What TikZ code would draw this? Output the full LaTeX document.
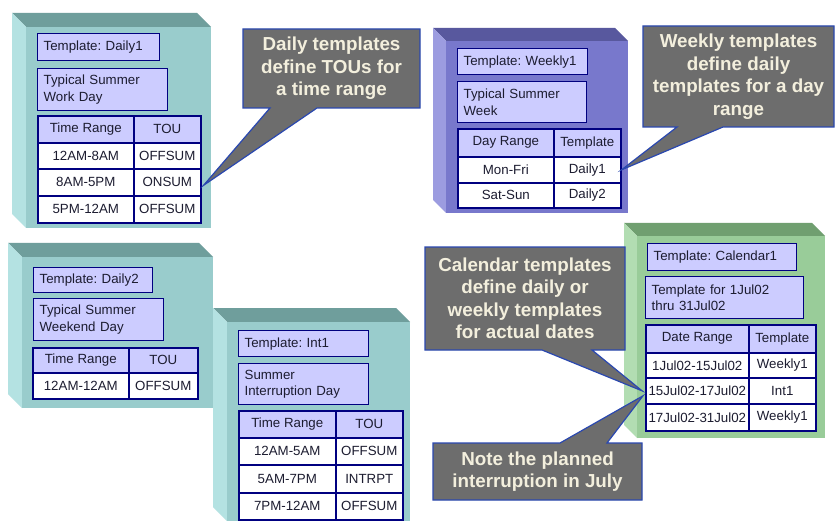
\documentclass[tikz,border=0pt]{standalone}
\usepackage{fontspec}
\setmainfont{Liberation Sans}
\usetikzlibrary{calc}
\frenchspacing
\definecolor{navy}{HTML}{000080}
\definecolor{lav}{HTML}{CCCCFF}
\definecolor{ink}{HTML}{1C1C30}
\definecolor{tealF}{HTML}{99CCCC}\definecolor{tealT}{HTML}{6F9E9C}\definecolor{tealL}{HTML}{B4E2E2}
\definecolor{bluF}{HTML}{7878CC}\definecolor{bluT}{HTML}{58589E}\definecolor{bluL}{HTML}{9C9CE0}
\definecolor{grnF}{HTML}{99CC99}\definecolor{grnT}{HTML}{709F70}\definecolor{grnL}{HTML}{B2DDB2}
\definecolor{callF}{HTML}{6D6D6D}\definecolor{callD}{HTML}{2A48B0}\definecolor{callT}{HTML}{F3EFDD}
\newcommand\mycube[9]{% name,x0,y0,x1,y1,d,front,top,left
  \fill[#8] (#2,#3) -- (#4-#6,#3) -- (#4,#3+#6) -- (#2+#6,#3+#6) -- cycle;
  \fill[#9] (#2,#3) -- (#2+#6,#3+#6) -- (#2+#6,#5) -- (#2,#5-#6) -- cycle;
  \node[fill=#7, inner sep=0pt, anchor=north west, minimum width={#4-#2-#6}, minimum height={#5-#3-#6}] (#1) at (#2+#6,#3+#6) {};}
\tikzset{
  boxfont/.style={font=\fontsize{13.3}{16.5}\selectfont\frenchspacing},
  lbl/.style={draw=navy, line width=1.3pt, fill=lav, text=ink, boxfont, inner xsep=6pt, inner ysep=0pt, align=left, anchor=north west},
  hcell/.style={draw=navy, line width=1.6pt, fill=lav, text=ink, boxfont, inner sep=0pt, align=center, anchor=north west},
  dcell/.style={hcell, fill=white},
  callout/.style={fill=callF, draw=callD, line width=1.2pt, line join=miter},
  calltext/.style={text=callT, font=\bfseries\fontsize{18.8}{22.5}\selectfont, align=center, inner sep=0pt},
}
\begin{document}
\begin{tikzpicture}[x=1pt,y=-1pt]
\useasboundingbox[fill=white] (0,0) rectangle (837,521);

% ---------- Daily1 ----------
\mycube{d1box}{12}{13}{211}{228}{14}{tealF}{tealT}{tealL}
\node[lbl, text width=110pt, minimum height=27pt] (d1name) at (37,33) {Template: Daily1};
\node[lbl, text width=118pt, minimum height=42pt] (d1desc) at (37,68) {Typical Summer\\Work Day};
\node[hcell, minimum width=96pt, minimum height=27pt] (d1ha) at (37,115) {Time Range};
\node[hcell, minimum width=67pt, minimum height=27pt] (d1hb) at (133,115) {TOU};
\node[dcell, minimum width=96pt, minimum height=26pt] (d1r1a) at (37,142) {12AM-8AM};
\node[dcell, minimum width=67pt, minimum height=26pt] (d1r1b) at (133,142) {OFFSUM};
\node[dcell, minimum width=96pt, minimum height=27pt] (d1r2a) at (37,168) {8AM-5PM};
\node[dcell, minimum width=67pt, minimum height=27pt] (d1r2b) at (133,168) {ONSUM};
\node[dcell, minimum width=96pt, minimum height=27pt] (d1r3a) at (37,195) {5PM-12AM};
\node[dcell, minimum width=67pt, minimum height=27pt] (d1r3b) at (133,195) {OFFSUM};

% ---------- Daily2 ----------
\mycube{d2box}{8}{243}{213}{408}{14}{tealF}{tealT}{tealL}
\node[lbl, text width=107pt, minimum height=25pt] (d2name) at (33,267) {Template: Daily2};
\node[lbl, text width=118pt, minimum height=42pt] (d2desc) at (33,298) {Typical Summer\\Weekend Day};
\node[hcell, minimum width=96pt, minimum height=25pt] (d2ha) at (32,347) {Time Range};
\node[hcell, minimum width=69pt, minimum height=25pt] (d2hb) at (128,347) {TOU};
\node[dcell, minimum width=96pt, minimum height=26pt] (d2r1a) at (32,372) {12AM-12AM};
\node[dcell, minimum width=69pt, minimum height=26pt] (d2r1b) at (128,372) {OFFSUM};

% ---------- Int1 ----------
\mycube{i1box}{213}{308}{410}{521}{14}{tealF}{tealT}{tealL}
\node[lbl, text width=118pt, minimum height=26pt] (i1name) at (238,330) {Template: Int1};
\node[lbl, text width=118pt, minimum height=41pt] (i1desc) at (238,363) {Summer\\Interruption Day};
\node[hcell, minimum width=97pt, minimum height=27pt] (i1ha) at (238,410) {Time Range};
\node[hcell, minimum width=67pt, minimum height=27pt] (i1hb) at (335,410) {TOU};
\node[dcell, minimum width=97pt, minimum height=27pt] (i1r1a) at (238,437) {12AM-5AM};
\node[dcell, minimum width=67pt, minimum height=27pt] (i1r1b) at (335,437) {OFFSUM};
\node[dcell, minimum width=97pt, minimum height=28pt] (i1r2a) at (238,464) {5AM-7PM};
\node[dcell, minimum width=67pt, minimum height=28pt] (i1r2b) at (335,464) {INTRPT};
\node[dcell, minimum width=97pt, minimum height=27pt] (i1r3a) at (238,492) {7PM-12AM};
\node[dcell, minimum width=67pt, minimum height=27pt] (i1r3b) at (335,492) {OFFSUM};

% ---------- Weekly1 ----------
\mycube{w1box}{433}{28}{628}{213}{13}{bluF}{bluT}{bluL}
\node[lbl, text width=118pt, minimum height=26pt] (w1name) at (457,48) {Template: Weekly1};
\node[lbl, text width=117pt, minimum height=41pt] (w1desc) at (457,81) {Typical Summer\\Week};
\node[hcell, minimum width=96pt, minimum height=28pt] (w1ha) at (457,128) {Day Range};
\node[hcell, minimum width=67pt, minimum height=28pt] (w1hb) at (553,128) {Template};
\node[dcell, minimum width=96pt, minimum height=26pt] (w1r1a) at (457,156) {Mon-Fri};
\node[dcell, minimum width=67pt, minimum height=26pt] (w1r1b) at (553,156) {Daily1};
\node[dcell, minimum width=96pt, minimum height=25pt] (w1r2a) at (457,182) {Sat-Sun};
\node[dcell, minimum width=67pt, minimum height=25pt] (w1r2b) at (553,182) {Daily2};

% ---------- Calendar1 ----------
\mycube{c1box}{624}{223}{825}{438}{13}{grnF}{grnT}{grnL}
\node[lbl, text width=137pt, minimum height=27pt] (c1name) at (647,243) {Template: Calendar1};
\node[lbl, text width=146pt, minimum height=42pt] (c1desc) at (645,276) {Template for 1Jul02\\thru 31Jul02};
\node[hcell, minimum width=103pt, minimum height=28pt] (c1ha) at (645,324) {Date Range};
\node[hcell, minimum width=67pt, minimum height=28pt] (c1hb) at (748,324) {Template};
\node[dcell, minimum width=103pt, minimum height=25pt] (c1r1a) at (645,352) {1Jul02-15Jul02};
\node[dcell, minimum width=67pt, minimum height=25pt] (c1r1b) at (748,352) {Weekly1};
\node[dcell, minimum width=103pt, minimum height=26pt] (c1r2a) at (645,377) {15Jul02-17Jul02};
\node[dcell, minimum width=67pt, minimum height=26pt] (c1r2b) at (748,377) {Int1};
\node[dcell, minimum width=103pt, minimum height=27pt] (c1r3a) at (645,403) {17Jul02-31Jul02};
\node[dcell, minimum width=67pt, minimum height=27pt] (c1r3b) at (748,403) {Weekly1};

% ---------- Callouts ----------
\draw[callout] (243,29) -- (420,29) -- (420,108) -- (317,108) -- ($(d1r2b.east)+(2,3)$) -- (270,108) -- (243,108) -- cycle;
\node[calltext] (k1) at (331.5,68.5) {Daily templates\\define TOUs for\\a time range};

\draw[callout] (643,26) -- (834,26) -- (834,127) -- (723,127) -- (w1r1b.east) -- (677,127) -- (643,127) -- cycle;
\node[calltext] (k2) at (738.5,76.5) {Weekly templates\\define daily\\templates for a day\\range};

\draw[callout] (425,247) -- (625,247) -- (625,350) -- (592,350) -- ($(c1r2a.west)+(-3,0)$) -- (542,350) -- (425,350) -- cycle;
\node[calltext] (k3) at (525,298.5) {Calendar templates\\define daily or\\weekly templates\\for actual dates};

\draw[callout] (433,443) -- (560,443) -- ($(c1r2a.west)+(-2,5)$) -- (607,443) -- (642,443) -- (642,500) -- (433,500) -- cycle;
\node[calltext] (k4) at (537.5,471.5) {Note the planned\\interruption in July};
\end{tikzpicture}
\end{document}
